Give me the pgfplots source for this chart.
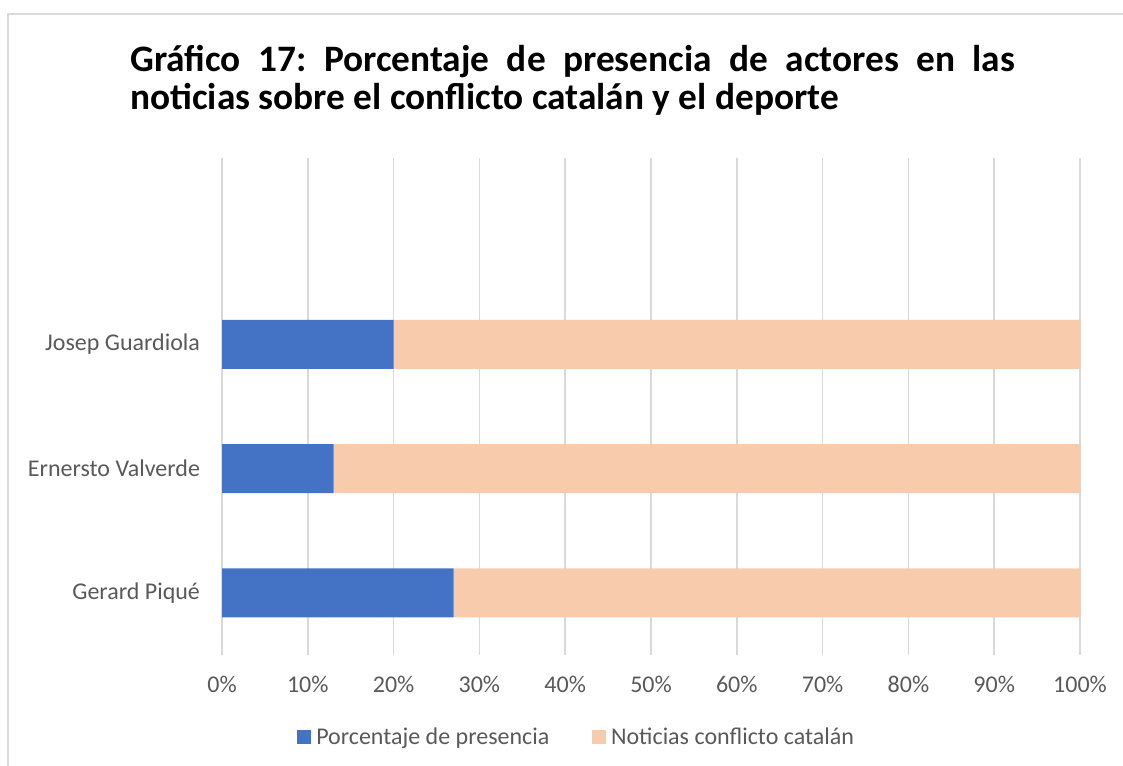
\documentclass[border=0pt]{standalone}
\usepackage{pgfplots}
\pgfplotsset{compat=1.18}
\usepackage{fontspec}
\setmainfont{Carlito}
\definecolor{cblue}{HTML}{4472C4}
\definecolor{cpeach}{HTML}{F8CBAD}
\definecolor{cgrid}{HTML}{D9D9D9}
\definecolor{ctext}{HTML}{595959}
\begin{document}
\frenchspacing
\begin{tikzpicture}
\useasboundingbox (0,0) rectangle (842.25pt,573.75pt);
\draw[cgrid, line width=1.1pt] (6pt,-1pt) -- (6pt,563.25pt) -- (843pt,563.25pt);
\node[anchor=base west, inner sep=0pt] at (97.5pt,519.75pt)
  {\parbox[t]{663.75pt}{\fontsize{28pt}{28.5pt}\selectfont\bfseries
   Gráfico 17: Porcentaje de presencia de actores en las\linebreak
   noticias sobre el conflicto catalán y el deporte}};
\begin{axis}[
  at={(166.5pt,82.5pt)}, anchor=south west,
  scale only axis, width=643.5pt, height=372.75pt,
  xbar stacked, bar width=36.75pt,
  xmin=0, xmax=100, ymin=-0.5, ymax=3.5,
  xtick={0,10,...,100},
  xticklabels={0\%,10\%,20\%,30\%,40\%,50\%,60\%,70\%,80\%,90\%,100\%},
  ytick={0,1,2},
  yticklabels={Gerard Piqué,Ernersto Valverde,Josep Guardiola},
  major tick length=0pt,
  axis line style={draw=none},
  xmajorgrids, grid style={cgrid, line width=1.1pt},
  tick label style={font=\fontsize{18pt}{20pt}\selectfont, text=ctext},
  xticklabel style={yshift=-12pt},
  yticklabel style={xshift=-13pt},
  legend style={at={(0.0874,-0.165)}, anchor=west, draw=none, fill=none,
    inner sep=0pt, legend columns=2,
    font=\fontsize{18pt}{20pt}\selectfont, text=ctext,
    nodes={inner xsep=3.75pt, inner ysep=0pt},
    /tikz/every even column/.append style={column sep=28.3pt}},
  legend image code/.code={\fill[#1] (0pt,-5.25pt) rectangle (10.5pt,5.25pt);},
]
\addplot[fill=cblue, draw=none] coordinates {(27,0) (13,1) (20,2)};
\addplot[fill=cpeach, draw=none] coordinates {(73,0) (87,1) (80,2)};
\legend{Porcentaje de presencia, Noticias conflicto catalán}
\end{axis}
\end{tikzpicture}
\end{document}
